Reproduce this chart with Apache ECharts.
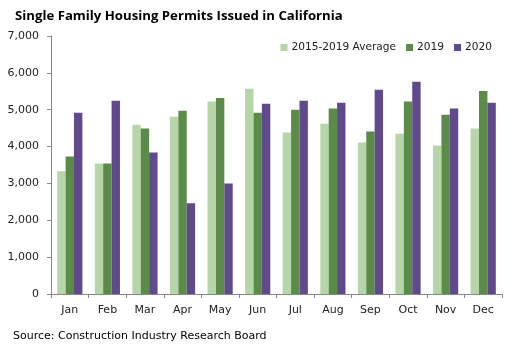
<!DOCTYPE html>
<html>
<head>
    <meta charset="utf-8">
    <title>Single Family Housing Permits Issued in California</title>
    <script type="text/javascript" src="https://cdn.jsdelivr.net/npm/echarts@6/dist/echarts.min.js"></script>
    <style>
        html, body { margin:0; padding:0; background:#fff; }
        #chart { width:513px; height:351px; }
    </style>
</head>
<body>
<div id="chart"></div>
<script type="text/javascript">
var months = ['Jan','Feb','Mar','Apr','May','Jun','Jul','Aug','Sep','Oct','Nov','Dec'];
var avg1519 = [3330, 3540, 4590, 4810, 5220, 5570, 4380, 4620, 4110, 4350, 4030, 4490];
var y2019   = [3730, 3540, 4490, 4970, 5320, 4920, 5000, 5030, 4410, 5220, 4860, 5510];
var y2020   = [4920, 5240, 3840, 2460, 3000, 5160, 5240, 5190, 5540, 5760, 5030, 5190];
var seriesNames = ['2015-2019 Average', '2019', '2020'];

var chart = echarts.init(document.getElementById('chart'));
var font = 'DejaVu Sans';

function bars(name, data, color){
    return {
        name: name,
        type: 'bar',
        data: data,
        barGap: '0%',
        barCategoryGap: '33%',
        itemStyle: { color: color },
        emphasis: { disabled: true }
    };
}

chart.setOption({
    animation: false,
    title: {
        text: 'Single Family Housing Permits Issued in California',
        left: 10, top: 5,
        textStyle: { fontFamily: 'Open Sans', fontWeight: 'bold', fontSize: 13.2, color: '#000' }
    },
    legend: {
        data: seriesNames,
        right: 16, top: 37,
        itemWidth: 7, itemHeight: 7, itemGap: 10,
        icon: 'rect',
        textStyle: { fontFamily: font, fontSize: 10.6, color: '#222', padding: [0,0,0,-1] }
    },
    graphic: [{
        type: 'text', left: 13, top: 331,
        style: { text: 'Source: Construction Industry Research Board', font: '11px "DejaVu Sans"', fill: '#000' }
    }],
    grid: { left: 51, right: 11, top: 36, bottom: 57 },
    xAxis: {
        type: 'category',
        data: months,
        axisLine: { lineStyle: { color: '#888' } },
        axisTick: { show: true, length: 4, lineStyle: { color: '#888' } },
        axisLabel: { fontFamily: font, fontSize: 11, color: '#222', margin: 11 }
    },
    yAxis: {
        type: 'value',
        min: 0, max: 7000, interval: 1000,
        axisLine: { show: true, lineStyle: { color: '#888' } },
        axisTick: { show: true, length: 4, lineStyle: { color: '#888' } },
        splitLine: { show: false },
        axisLabel: {
            fontFamily: font, fontSize: 11, color: '#222', margin: 12,
            formatter: function(v){ return v.toLocaleString('en-US'); }
        }
    },
    series: [
        bars(seriesNames[0], avg1519, '#b6d6aa'),
        bars(seriesNames[1], y2019, '#5a8b49'),
        bars(seriesNames[2], y2020, '#604a8b')
    ]
});
</script>
</body>
</html>
